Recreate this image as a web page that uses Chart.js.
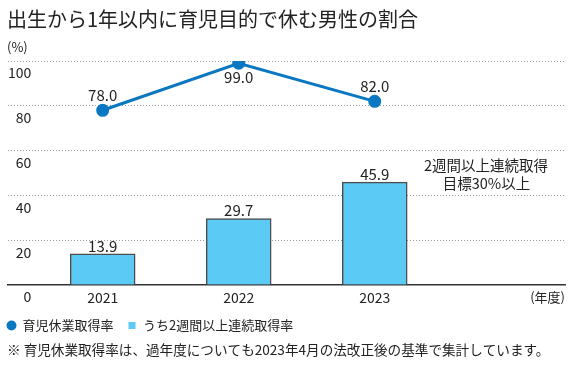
<!DOCTYPE html>
<html>
<head>
<meta charset="utf-8">
<script src="https://cdn.jsdelivr.net/npm/chart.js@4.4.0/dist/chart.umd.min.js"></script>
<style>
  html, body { margin: 0; padding: 0; background: #fff; }
</style>
</head>
<body>
<canvas id="chart" width="573" height="369"></canvas>
<script>
const years = [2021, 2022, 2023];
const takeRate = [78.0, 99.0, 82.0];      // 育児休業取得率
const twoWeekRate = [13.9, 29.7, 45.9];   // うち2週間以上連続取得率
const yTicks = [0, 20, 40, 60, 80, 100];

const FONT = "'Noto Sans CJK JP', 'Noto Sans', sans-serif";
const BLUE = '#0a77c2';
const SKY = '#5bcbf5';
const INK = '#222';

Chart.defaults.font.family = FONT;

// texts that are not axis/legend: title, unit, value labels, note
const extras = {
  id: 'extras',
  afterLayout(chart) {
    chart.legend.left = -7;
    chart.legend.top = 305;
  },
  afterDatasetsDraw(chart) {
    const ctx = chart.ctx;
    ctx.save();
    ctx.fillStyle = INK;
    ctx.textAlign = 'center';
    ctx.textBaseline = 'middle';

    ctx.font = '15px ' + FONT;
    chart.getDatasetMeta(0).data.forEach((pt, i) => {
      const below = i == 1;
      ctx.fillText(takeRate[i].toFixed(1), pt.x, below ? pt.y + 14 : pt.y - 15);
    });
    chart.getDatasetMeta(1).data.forEach((bar, i) => {
      ctx.fillText(twoWeekRate[i].toFixed(1), bar.x, bar.y - 8);
    });

    ctx.font = '14.5px ' + FONT;
    ctx.fillText('2週間以上連続取得', 486, 165);
    ctx.fillText('目標30%以上', 486.5, 183);

    ctx.textAlign = 'right';
    ctx.font = '13px ' + FONT;
    ctx.fillText('(年度)', 565, 297);

    ctx.textAlign = 'left';
    ctx.font = '20px ' + FONT;
    ctx.fillText('出生から1年以内に育児目的で休む男性の割合', 7, 19);
    ctx.font = '13px ' + FONT;
    ctx.fillText('(%)', 7, 47);
    ctx.font = '13.6px ' + FONT;
    ctx.fillText('※ 育児休業取得率は、過年度についても2023年4月の法改正後の基準で集計しています。', 7, 350);
    ctx.restore();
  }
};

new Chart(document.getElementById('chart'), {
  data: {
    datasets: [
      {
        type: 'line',
        label: '育児休業取得率',
        data: years.map((y, i) => ({ x: y, y: takeRate[i] })),
        borderColor: BLUE,
        backgroundColor: BLUE,
        borderWidth: 3,
        pointRadius: 5,
        pointBackgroundColor: BLUE,
        pointBorderColor: BLUE,
        pointStyle: 'circle',
        order: 0
      },
      {
        type: 'bar',
        label: 'うち2週間以上連続取得率',
        data: years.map((y, i) => ({ x: y, y: twoWeekRate[i] })),
        backgroundColor: SKY,
        borderColor: '#4d4d4d',
        borderWidth: 1.5,
        barThickness: 65,
        pointStyle: 'rect',
        order: 1
      }
    ]
  },
  options: {
    responsive: false,
    animation: false,
    layout: { padding: { top: 61, left: 6, right: 8, bottom: 25 } },
    scales: {
      x: {
        type: 'linear',
        offset: false,
        min: 2020.304,
        max: 2024.399,
        grid: { display: false, drawTicks: false },
        border: { display: true, color: '#333', width: 1.5 },
        afterBuildTicks: s => { s.ticks = years.map(v => ({ value: v })); },
        afterFit: s => { s.height = 22; },
        ticks: {
          padding: 4,
          color: INK,
          font: { size: 14 },
          maxRotation: 0,
          autoSkip: false,
          callback: v => String(v)
        }
      },
      y: {
        min: 0,
        max: 100,
        afterBuildTicks: s => { s.ticks = yTicks.map(v => ({ value: v })); },
        afterFit: s => { s.width = 0; },
        border: { display: false, dash: [1, 2] },
        grid: {
          drawTicks: false,
          color: c => c.tick && c.tick.value == 0 ? 'rgba(0,0,0,0)' : '#999',
          lineWidth: 1
        },
        ticks: {
          mirror: true,
          crossAlign: 'far',
          padding: 0,
          labelOffset: 12,
          color: INK,
          font: { size: 14 }
        }
      }
    },
    plugins: {
      legend: {
        position: 'bottom',
        align: 'start',
        labels: {
          usePointStyle: true,
          boxWidth: 9,
          boxHeight: 7,
          padding: 14,
          color: INK,
          font: { size: 13 },
          generateLabels: ch => Chart.defaults.plugins.legend.labels.generateLabels(ch)
            .map(l => Object.assign(l, { lineWidth: 0, strokeStyle: l.fillStyle }))
        }
      },
      tooltip: { enabled: false }
    }
  },
  plugins: [extras]
});
</script>
</body>
</html>
